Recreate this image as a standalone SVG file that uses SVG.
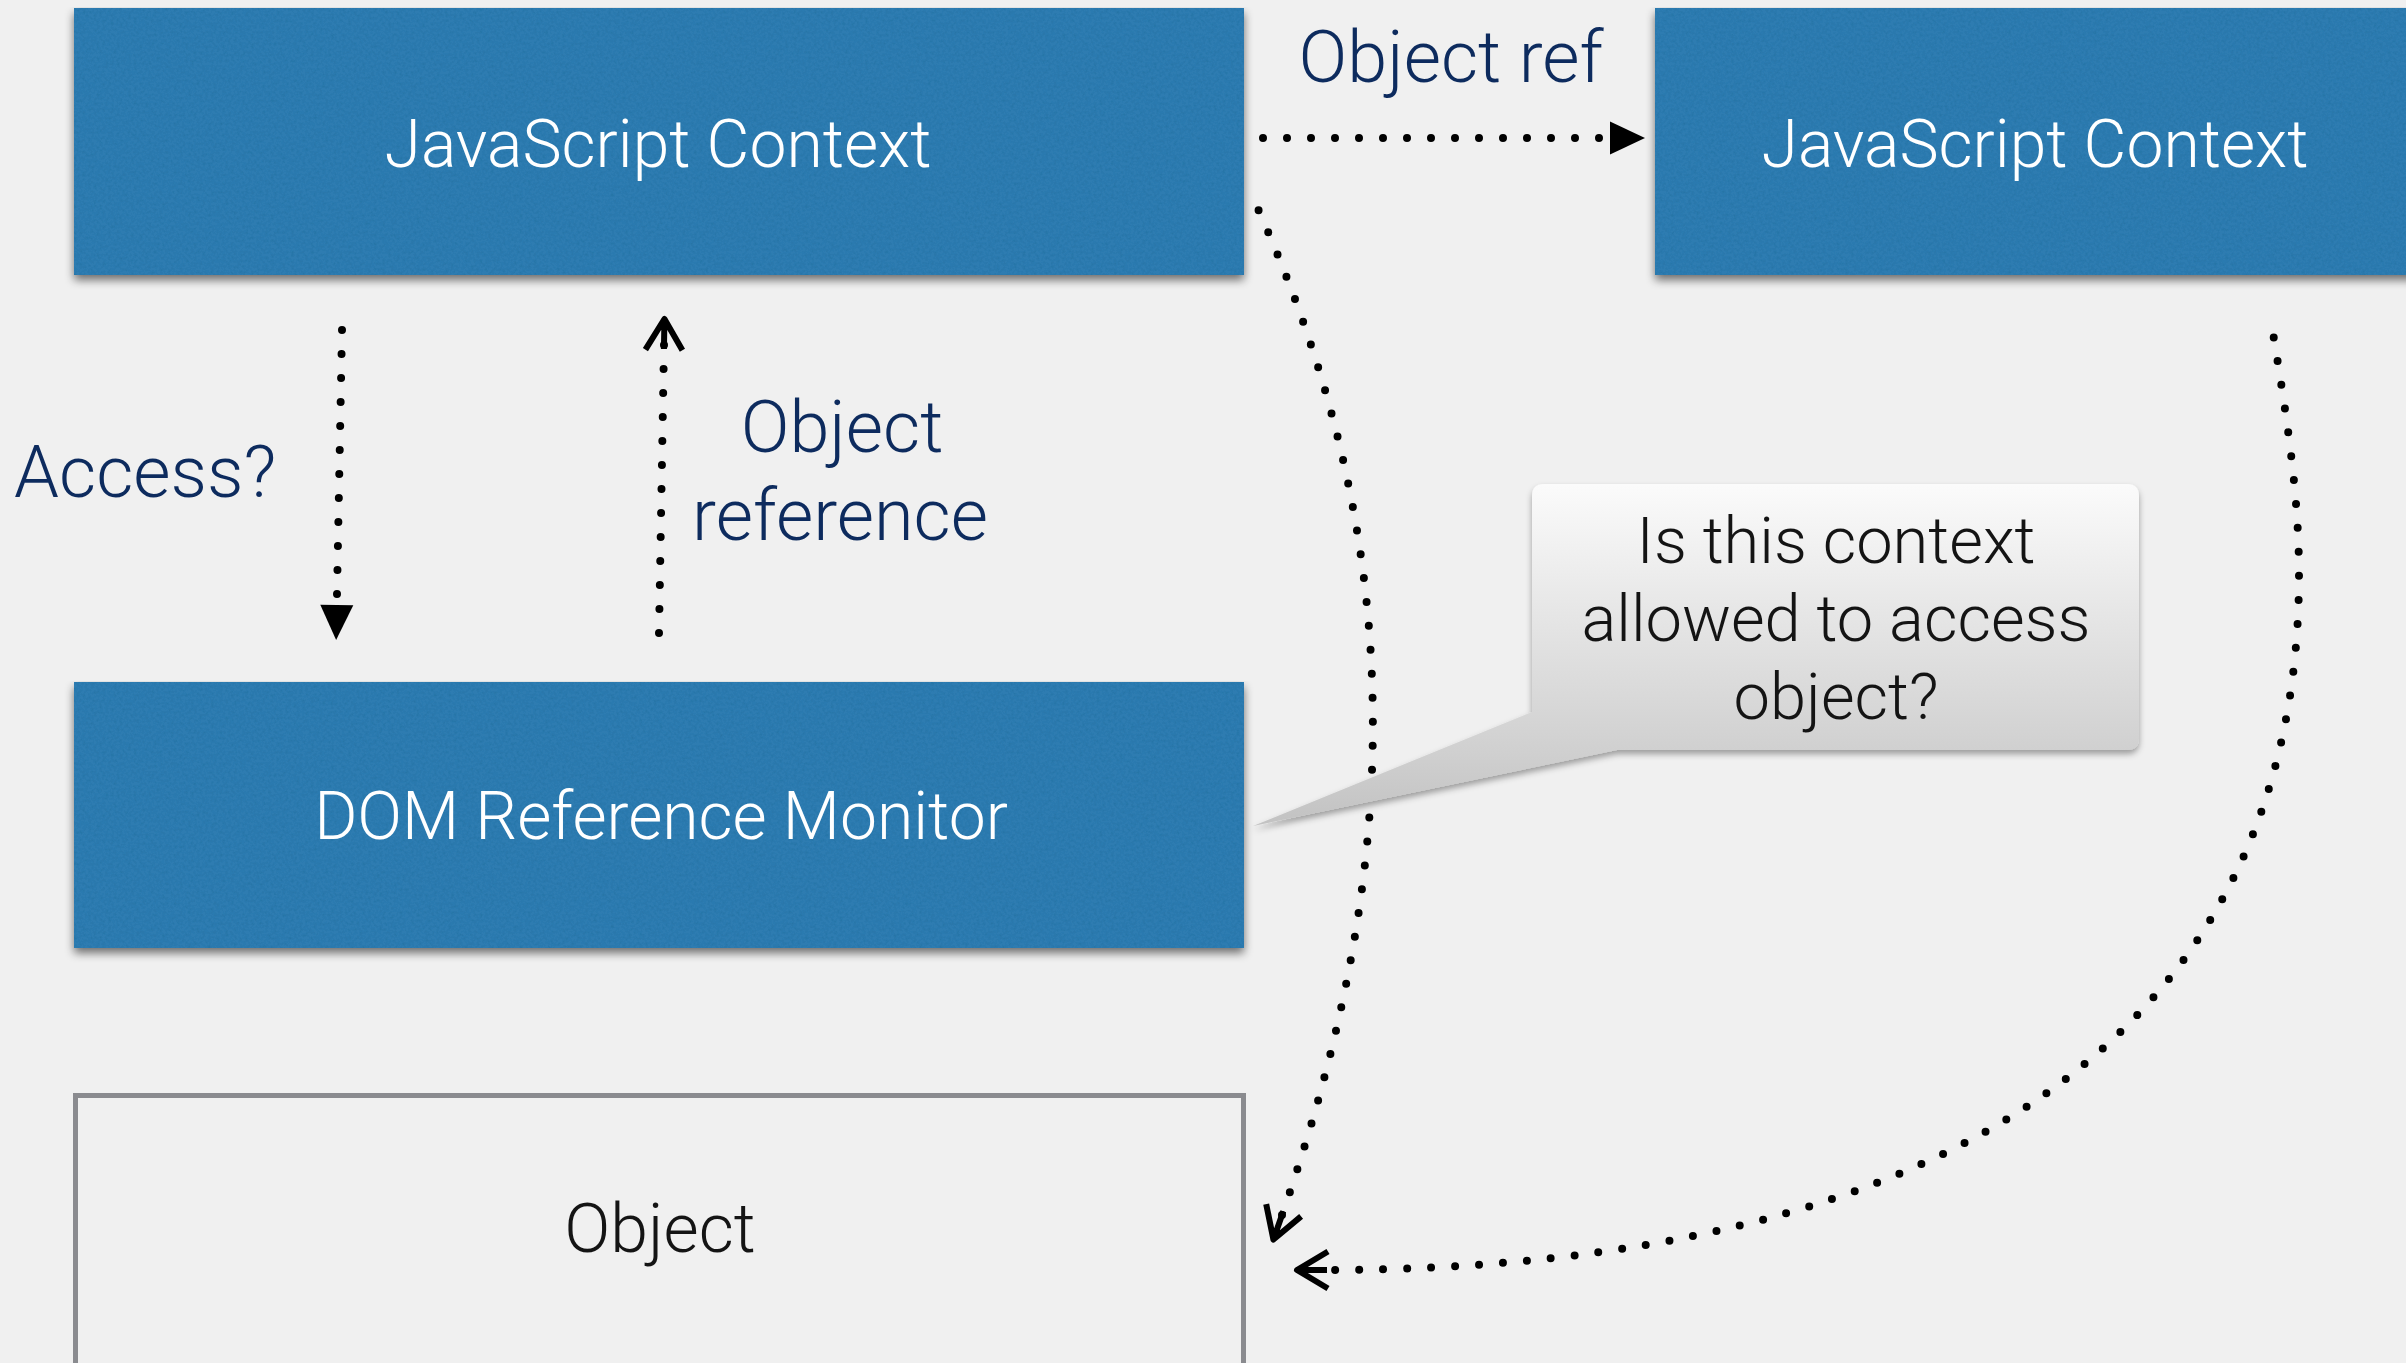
<svg xmlns="http://www.w3.org/2000/svg" width="2406" height="1363" viewBox="0 0 2406 1363">
<style>
  .blue { fill: #2e7cb1; }
  .boxtext { font-family: Roboto, "Liberation Sans", sans-serif; font-weight: 300; font-size: 66px; fill: #ffffff; text-anchor: middle; }
  .label { font-family: Roboto, "Liberation Sans", sans-serif; font-weight: 300; font-size: 72px; fill: #0d2b5e; }
  .calltext { font-family: Roboto, "Liberation Sans", sans-serif; font-weight: 300; font-size: 65px; fill: #141414; text-anchor: middle; }
  .objtext { font-family: Roboto, "Liberation Sans", sans-serif; font-weight: 300; font-size: 68px; fill: #141414; text-anchor: middle; }
  .dots { fill: none; stroke: #000; stroke-width: 8; stroke-linecap: round; stroke-dasharray: 0 24; }
</style>
<defs>
  <filter id="paper" x="-2%" y="-2%" width="104%" height="110%">
    <feGaussianBlur in="SourceAlpha" stdDeviation="5" result="b"/>
    <feOffset in="b" dx="0" dy="5" result="o"/>
    <feComponentTransfer in="o" result="sh"><feFuncA type="linear" slope="0.55"/></feComponentTransfer>
    <feTurbulence type="fractalNoise" baseFrequency="0.35" numOctaves="3" seed="7" result="n"/>
    <feColorMatrix in="n" type="matrix" values="0 0 0 0 0  0 0 0 0 0.1  0 0 0 0 0.2  0.5 0 0 0 -0.22" result="nt"/>
    <feComposite in="nt" in2="SourceGraphic" operator="in" result="tex"/>
    <feMerge><feMergeNode in="sh"/><feMergeNode in="SourceGraphic"/><feMergeNode in="tex"/></feMerge>
  </filter>
  <filter id="callshadow" x="-5%" y="-5%" width="110%" height="115%">
    <feDropShadow dx="0" dy="4" stdDeviation="3" flood-color="#000" flood-opacity="0.35"/>
  </filter>
  <linearGradient id="callgrad" gradientUnits="userSpaceOnUse" x1="0" y1="484" x2="0" y2="826">
    <stop offset="0" stop-color="#fbfbfb"/>
    <stop offset="0.78" stop-color="#d0d0d0"/>
    <stop offset="1" stop-color="#c2c2c2"/>
  </linearGradient>
  <marker id="tri" markerUnits="userSpaceOnUse" markerWidth="60" markerHeight="40" viewBox="0 -20 60 40" refX="0" refY="0" orient="auto" overflow="visible">
    <path d="M10,-16.5 L45,0 L10,16.5 Z" fill="#000"/>
  </marker>
  <marker id="chev" markerUnits="userSpaceOnUse" markerWidth="60" markerHeight="50" viewBox="-20 -25 60 50" refX="0" refY="0" orient="auto-start-reverse" overflow="visible">
    <path d="M-5,-18.5 L26,0 L-5,18.5 M26,0 L-4,0" fill="none" stroke="#000" stroke-width="6" stroke-linejoin="round"/>
  </marker>
</defs>
<rect x="0" y="0" width="2406" height="1363" fill="#f0f0f0"/>

<g id="connectors">
  <path class="dots" d="M1263,138 L1600,138" marker-end="url(#tri)"/>
  <path class="dots" d="M342,330 L336.98,595" marker-end="url(#tri)"/>
  <path class="dots" d="M664,345 L658.98,634" marker-start="url(#chev)"/>
  <path class="dots" d="M1282,1215 C1404,866 1410,547 1258,209" marker-start="url(#chev)"/>
  <path class="dots" style="stroke-dashoffset:12" d="M1323,1270 C1957,1270 2299,1026 2299,574 C2299,494 2286,412 2273,333" marker-start="url(#chev)"/>
</g>

<g id="label-object-ref"><text class="label" x="1451" y="82" text-anchor="middle">Object ref</text></g>
<g id="label-access"><text class="label" x="14" y="497">Access?</text></g>
<g id="label-object-reference">
  <text class="label" x="842" y="452" text-anchor="middle">Object</text>
  <text class="label" x="840" y="540" text-anchor="middle">reference</text>
</g>

<g id="js-context-1">
  <rect class="blue" x="74" y="8" width="1170" height="267" filter="url(#paper)"/>
  <text class="boxtext" x="658" y="167">JavaScript Context</text>
</g>
<g id="js-context-2">
  <rect class="blue" x="1655" y="8" width="780" height="267" filter="url(#paper)"/>
  <text class="boxtext" x="2035" y="167">JavaScript Context</text>
</g>
<g id="dom-reference-monitor">
  <rect class="blue" x="74" y="682" width="1170" height="266" filter="url(#paper)"/>
  <text class="boxtext" x="661" y="839">DOM Reference Monitor</text>
</g>
<g id="object">
  <rect x="75.5" y="1095.5" width="1168" height="1265" fill="none" stroke="#8a8b8f" stroke-width="5"/>
  <text class="objtext" x="660" y="1252">Object</text>
</g>
<g id="callout">
  <path d="M1544,484 H2127 Q2139,484 2139,496 V738 Q2139,750 2127,750 H1617 L1253,826 L1532,712 V496 Q1532,484 1544,484 Z" fill="url(#callgrad)" filter="url(#callshadow)"/>
  <text class="calltext" x="1836" y="563">Is this context</text>
  <text class="calltext" x="1836" y="641">allowed to access</text>
  <text class="calltext" x="1836" y="719">object?</text>
</g>
</svg>
